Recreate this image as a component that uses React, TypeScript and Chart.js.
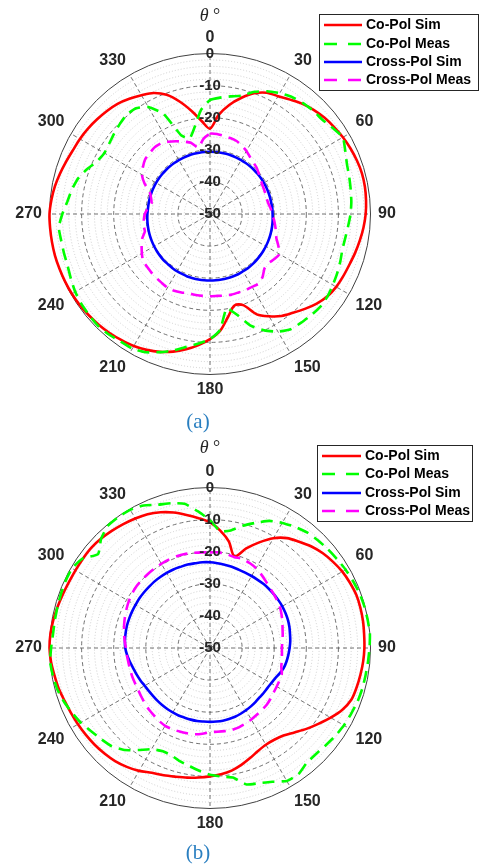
import React, { useEffect, useRef } from 'react';
import { Chart, registerables } from 'chart.js';

Chart.register(...registerables);

const FONT = '"Liberation Sans", Arial, Helvetica, sans-serif';

// Angle categories (degrees, clockwise from top)
const angleLabels = ['0','5','10','15','20','25','30','35','40','45','50','55','60','65','70','75','80','85','90','95','100','105','110','115','120','125','130','135','140','145','150','155','160','165','170','175','180','185','190','195','200','205','210','215','220','225','230','235','240','245','250','255','260','265','270','275','280','285','290','295','300','305','310','315','320','325','330','335','340','345','350','355'];

const seriesNames = ['Co-Pol Sim', 'Co-Pol Meas', 'Cross-Pol Sim', 'Cross-Pol Meas'];
const seriesColors = ['#ff0000', '#00ff00', '#0000ff', '#ff00ff'];
const seriesDashed = [false, true, false, true];

// ---------- panel (a) ----------
const coPolSimA = [
  -23.4, -19, -15.5, -12.6, -10, -8.3, -7.6, -6.5, -5.2, -4.2, -3.4, -2.8,
  -2.2, -1.7, -1.3, -1.0, -1.0, -1.2, -1.5, -2.0, -2.6, -3.2, -3.8, -4.2,
  -4.6, -5.3, -6.6, -8.2, -9.8, -11.2, -13.2, -15.5, -19.8, -20.5, -17.5, -13.5,
  -11, -9, -7.2, -5.6, -4.3, -3.3, -2.5, -2, -1.5, -1.1, -0.8, -0.5,
  -0.3, -0.2, -0.1, 0, 0, 0, 0, -0.4, -0.9, -1.6, -2.3, -2.9,
  -3.2, -3.6, -4.1, -4.6, -5.2, -6.2, -7.3, -8.4, -10.5, -13.8, -17.5, -21,
];
const coPolMeasA = [
  -14.5, -13.6, -12.8, -11.8, -9.5, -7.8, -6.5, -5.5, -4.9, -4.5, -4.3, -3.3,
  -2.2, -3.5, -4.6, -5.1, -5.5, -5.8, -6.2, -6.8, -7.2, -7.3, -6.8, -6.3,
  -5.8, -5.3, -5.1, -5.4, -5.8, -6.2, -7.7, -10, -13, -17.5, -20.2, -13.8,
  -11, -9.5, -8, -6, -4.2, -2.5, -1.6, -1.5, -1, -0.7, -0.9, -1.1,
  -1.5, -2.2, -2.8, -2.9, -2.9, -2.7, -4, -5.4, -6.3, -7.4, -9.2, -11.2,
  -12, -11.7, -11, -10.3, -9.6, -9.8, -11.5, -15.5, -24, -25.6, -22.5, -17.5,
];
const crossPolSimA = [
  -30.6, -30.6, -30.6, -30.6, -30.6, -30.6, -30.6, -30.6, -30.6, -30.6, -30.6, -30.6,
  -30.6, -30.6, -30.6, -30.6, -30.6, -30.5, -30.5, -30.4, -30.3, -30.2, -30.1, -30,
  -29.9, -29.8, -29.7, -29.6, -29.5, -29.4, -29.4, -29.3, -29.3, -29.3, -29.3, -29.3,
  -29.3, -29.3, -29.3, -29.3, -29.3, -29.4, -29.4, -29.5, -29.6, -29.6, -29.7, -29.8,
  -29.9, -30, -30.1, -30.2, -30.3, -30.4, -30.5, -30.6, -30.6, -30.6, -30.6, -30.6,
  -30.6, -30.6, -30.6, -30.6, -30.6, -30.6, -30.6, -30.6, -30.6, -30.6, -30.6, -30.6,
];
const crossPolMeasA = [
  -25, -25, -25.3, -25.5, -25.8, -26.5, -27.3, -28.3, -29, -29.5, -30.2, -30.8,
  -31.3, -31.5, -31.6, -31.7, -31.5, -31, -30.7, -30, -29.4, -28.7, -28, -26.5,
  -25, -25.5, -26.2, -26, -24.5, -23.5, -23.8, -23.8, -24, -24, -24.2, -24.4,
  -24.4, -24.4, -24.4, -24.4, -24, -23.6, -23.5, -23.8, -24, -24.2, -24.4, -24.5,
  -25.5, -26.5, -27.5, -29, -29, -29.3, -29.7, -30.5, -31.5, -31, -30, -27.5,
  -25.5, -24.5, -23.6, -23.3, -23, -23.2, -24, -25, -26, -27, -29, -26.5,
];

// ---------- panel (b) ----------
const coPolSimB = [
  -10.9, -13.3, -16.3, -20.5, -17, -13.7, -10.5, -8.2, -6.8, -5.3, -4.1, -3.2,
  -2.4, -1.9, -1.5, -1.5, -1.6, -1.8, -1.9, -2.1, -2.4, -2.7, -3.1, -4.5,
  -6.6, -8.8, -10.8, -12.8, -14.4, -15.1, -15.2, -14.6, -13.5, -12.3, -11.2, -10.5,
  -10, -9.5, -9, -8.5, -7.8, -7.1, -5.8, -4.8, -4, -3.5, -3.1, -2.8,
  -2.5, -2.2, -1.8, -1.2, -0.8, -0.3, 0, -0.1, -0.4, -0.8, -1.2, -1.5,
  -1.6, -1.6, -1.6, -1.9, -2.4, -2.9, -3.4, -4, -5, -6.3, -7.9, -9.4,
];
const coPolMeasB = [
  -10.2, -13.5, -12.8, -10.6, -8.5, -6.3, -5, -3.9, -3, -2.5, -2.1, -1.7,
  -1.2, -0.8, -0.4, -0.2, -0.1, 0, -0.3, -0.6, -0.8, -0.9, -1.1, -1.5,
  -1.8, -2.3, -2.9, -3.3, -3.2, -2, -2.2, -4, -5.2, -6, -9, -9.8,
  -10.5, -11.6, -12.7, -13.5, -14.5, -14.6, -13.6, -11.2, -8.5, -6.7, -5.8, -4.8,
  -3.5, -2.5, -1.5, -0.7, -0.3, 0, -0.5, -0.9, -0.9, -0.8, -0.6, -0.4,
  -0.4, -1.5, -4.5, -2, -0.4, -0.2, -0.3, -1, -2.5, -3.3, -4.4, -7.3,
];
const crossPolSimB = [
  -23.3, -23.5, -23.7, -23.8, -24, -24.1, -24.1, -24.1, -24, -24, -24, -24,
  -24, -24.1, -24.2, -24.4, -24.7, -24.9, -25.2, -25.5, -25.8, -26.2, -26.9, -27.6,
  -28, -28.2, -28.2, -28.2, -28, -27.8, -27.6, -27.4, -27.2, -27.1, -27, -27,
  -27, -27, -26.9, -26.9, -26.9, -26.8, -26.8, -26.8, -26.8, -26.8, -26.8, -26.7,
  -26.5, -26.1, -25.7, -25.3, -24.7, -24.1, -23.6, -23.4, -23.3, -23.2, -23.2, -23.2,
  -23.2, -23.1, -23.1, -23.1, -23, -23, -23, -23, -23.1, -23.1, -23.2, -23.2,
];
const crossPolMeasB = [
  -20.2, -20.1, -20.3, -20.7, -20.4, -20.8, -21.3, -22.1, -22.9, -23.6, -24, -24.4,
  -24.8, -25.4, -26, -26.6, -27, -27.4, -27.6, -27.5, -27.3, -27, -26.2, -26.1,
  -26, -25.8, -25.4, -25, -24.8, -24.6, -24.3, -24, -23.7, -23.6, -23.7, -23.8,
  -23.8, -23.2, -22.7, -22.5, -22.3, -22.1, -22, -22.3, -22.7, -23, -23.4, -23.8,
  -24.1, -24.2, -24.2, -24.2, -24.2, -24, -23.8, -23.3, -22.8, -22.3, -21.8, -21.3,
  -20.8, -20.4, -20.1, -20, -19.9, -19.8, -19.7, -19.6, -19.6, -19.7, -19.9, -20.1,
];

// radial axis range / ticks (dB)
const rMin = -50;
const rMax = 0;
const rStep = 2;
const rMajor = 10;

const boxLegendPlugin = {
  id: 'boxLegend',
  afterDraw(chart: any, _args: any, opts: any) {
    const { ctx } = chart;
    const b = opts.box;
    ctx.save();
    ctx.fillStyle = '#ffffff';
    ctx.fillRect(b.x, b.y, b.w, b.h);
    ctx.strokeStyle = '#262626';
    ctx.lineWidth = 1;
    ctx.setLineDash([]);
    ctx.strokeRect(b.x + 0.5, b.y + 0.5, b.w, b.h);
    chart.data.datasets.forEach((ds: any, i: number) => {
      const y = opts.rows[i];
      ctx.strokeStyle = ds.borderColor;
      ctx.lineWidth = 2.6;
      ctx.setLineDash(seriesDashed[i] ? [13, 11] : []);
      ctx.beginPath();
      ctx.moveTo(opts.lineX0, y);
      ctx.lineTo(opts.lineX1, y);
      ctx.stroke();
      ctx.setLineDash([]);
      ctx.fillStyle = '#000000';
      ctx.font = `bold 14px ${FONT}`;
      ctx.textBaseline = 'middle';
      ctx.textAlign = 'left';
      ctx.fillText(ds.label, opts.textX, y + 0.5);
    });
    ctx.restore();
  },
};

type PanelProps = {
  top: number;
  height: number;
  series: number[][];
  legend: any;
};

function PolarPanel({ top, height, series, legend }: PanelProps) {
  const ref = useRef<HTMLCanvasElement>(null);
  useEffect(() => {
    const chart = new Chart(ref.current as HTMLCanvasElement, {
      type: 'radar',
      data: {
        labels: angleLabels,
        datasets: series.map((d, i) => ({
          label: seriesNames[i],
          data: d,
          borderColor: seriesColors[i],
          backgroundColor: 'rgba(0,0,0,0)',
          borderWidth: 2.6,
          borderDash: seriesDashed[i] ? [12, 7] : [],
          pointRadius: 0,
          pointHoverRadius: 0,
          fill: false,
          tension: seriesDashed[i] ? 0.15 : 0.3,
          order: 4 - i,
        })),
      },
      options: {
        responsive: false,
        animation: false,
        events: [],
        layout: { padding: { left: 0, right: 64, top: 30, bottom: height - 399 } },
        plugins: {
          legend: { display: false },
          tooltip: { enabled: false },
          boxLegend: legend,
        } as any,
        scales: {
          r: {
            min: rMin,
            max: rMax,
            beginAtZero: false,
            startAngle: 0,
            grid: {
              circular: true,
              color: (c: any) => (c.tick.value === rMax ? '#404040' : c.tick.value % rMajor === 0 ? '#4d4d4d' : '#c4c4c4'),
              lineWidth: (c: any) => (c.tick.value === rMax ? 1 : 0.8),
            },
            border: {
              dash: (c: any) => (c.tick.value === rMax ? [] : c.tick.value % rMajor === 0 ? [4, 3] : [1, 2]),
            },
            angleLines: {
              color: (c: any) => (c.index % 6 === 0 ? '#4d4d4d' : 'rgba(0,0,0,0)'),
              lineWidth: (c: any) => (c.index % 6 === 0 ? 0.8 : 0),
              borderDash: [4, 3],
            },
            pointLabels: {
              callback: (label: string, index: number) => (index % 6 === 0 ? label : ''),
              font: { family: FONT, size: 16, weight: 'bold', lineHeight: 1 },
              color: '#262626',
              padding: 0,
            },
            ticks: {
              stepSize: rStep,
              maxTicksLimit: 100,
              autoSkip: false,
              callback: (v: any) => (Number(v) % rMajor === 0 ? String(v) : ''),
              font: { family: FONT, size: 15, weight: 'bold' },
              color: '#262626',
              showLabelBackdrop: false,
              backdropPadding: 0,
              z: 1,
            },
          } as any,
        },
      },
      plugins: [boxLegendPlugin],
    } as any);
    return () => chart.destroy();
  }, []);
  return (
    <canvas
      ref={ref}
      width={484}
      height={height}
      style={{ position: 'absolute', left: 0, top, width: 484, height, display: 'block' }}
    />
  );
}

const thetaStyle: React.CSSProperties = {
  position: 'absolute',
  transform: 'translate(-50%, -50%)',
  fontFamily: '"Liberation Serif", "Times New Roman", serif',
  fontSize: 18,
  color: '#262626',
  whiteSpace: 'nowrap',
  lineHeight: 1,
};
const captionStyle: React.CSSProperties = {
  position: 'absolute',
  transform: 'translate(-50%, -50%)',
  fontFamily: '"Liberation Serif", "Times New Roman", serif',
  fontSize: 21,
  color: '#2a7fc0',
  whiteSpace: 'nowrap',
  lineHeight: 1,
};

export default function App() {
  return (
    <div style={{ position: 'absolute', left: 0, top: 0, width: 484, height: 866, background: '#fff', overflow: 'hidden' }}>
      <PolarPanel
        top={0}
        height={434}
        series={[coPolSimA, coPolMeasA, crossPolSimA, crossPolMeasA]}
        legend={{ box: { x: 319, y: 14, w: 159, h: 76 }, rows: [25, 44, 62, 80], lineX0: 324, lineX1: 362, textX: 366 }}
      />
      <PolarPanel
        top={434}
        height={432}
        series={[coPolSimB, coPolMeasB, crossPolSimB, crossPolMeasB]}
        legend={{ box: { x: 317, y: 11, w: 155, h: 76 }, rows: [22, 40, 59, 77], lineX0: 322, lineX1: 361, textX: 365 }}
      />
      <div style={{ ...thetaStyle, left: 210, top: 15 }}><i>θ</i> °</div>
      <div style={{ ...thetaStyle, left: 210, top: 447 }}><i>θ</i> °</div>
      <div style={{ ...captionStyle, left: 198, top: 421 }}>(a)</div>
      <div style={{ ...captionStyle, left: 198, top: 852 }}>(b)</div>
    </div>
  );
}
